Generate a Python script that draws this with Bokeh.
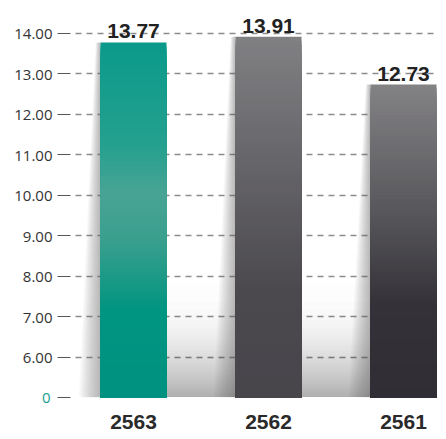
import numpy as np
from bokeh.plotting import figure
from bokeh.models import Range1d, FixedTicker, LinearAxis
from bokeh.core.properties import value
from bokeh.embed import file_html
from bokeh.resources import INLINE

# ---- data ----
years = ["2563", "2562", "2561"]
values = [13.77, 13.91, 12.73]
value_labels = ["13.77", "13.91", "12.73"]
y_ticks = [5, 6, 7, 8, 9, 10, 11, 12, 13, 14]
y_tick_labels = ["0", "6.00", "7.00", "8.00", "9.00", "10.00", "11.00", "12.00", "13.00", "14.00"]
base = 5  # broken axis: bottom labelled "0"

# ---- styles ----
gradients = [
    [(0, "#009180"), (0.25, "#009581"), (0.45, "#3a9f8e"), (0.58, "#48a494"), (0.72, "#24a08f"), (1, "#0b9a8a")],
    [(0, "#48464b"), (0.3, "#4b494e"), (0.7, "#69686c"), (1, "#808083")],
    [(0, "#302e34"), (0.3, "#343238"), (0.6, "#58575b"), (1, "#828184")],
]
TEAL = "#159e8e"
BAR_W = 0.489
X0, X1 = 0.0333, 2.7593


def hex2rgb(h):
    h = h.lstrip("#")
    return [int(h[i:i + 2], 16) for i in (0, 2, 4)]


def interp(stops, t):
    for (t0, c0), (t1, c1) in zip(stops[:-1], stops[1:]):
        if t0 <= t <= t1:
            f = 0 if t1 == t0 else (t - t0) / (t1 - t0)
            a, b = hex2rgb(c0), hex2rgb(c1)
            return "#%02x%02x%02x" % tuple(int(round(a[i] + (b[i] - a[i]) * f)) for i in range(3))
    return stops[-1][1]


xs = [i + 0.5 for i in range(len(years))]

p = figure(width=438, height=431,
           x_range=Range1d(X0, X1), y_range=Range1d(base, 14.806),
           output_backend="svg", toolbar_location=None,
           min_border_left=70, min_border_right=0, min_border_top=0, min_border_bottom=27)
p.outline_line_color = None
p.background_fill_color = "white"
p.border_fill_color = "white"

# axes
p.xaxis.ticker = FixedTicker(ticks=xs)
p.xaxis.major_label_overrides = {x: y for x, y in zip(xs, years)}
p.xaxis.axis_line_color = None
p.xaxis.major_tick_line_color = None
p.xaxis.minor_tick_line_color = None
p.xaxis.major_label_text_font = "Liberation Sans"
p.xaxis.major_label_text_font_style = "bold"
p.xaxis.major_label_text_font_size = "21px"
p.xaxis.major_label_text_color = "#2a2a2a"
p.xaxis.major_label_standoff = 11

yax = p.yaxis[0]
yax.ticker = FixedTicker(ticks=y_ticks)
overrides = {t: l for t, l in zip(y_ticks, y_tick_labels)}
overrides[base] = " "
yax.major_label_overrides = overrides
yax.axis_line_color = None
yax.major_tick_out = 13
yax.major_tick_in = 0
yax.major_tick_line_color = "#555555"
yax.minor_tick_line_color = None
yax.major_label_standoff = 5
yax.major_label_text_font = "Open Sans"
yax.major_label_text_font_size = "15px"
yax.major_label_text_color = "#333333"

# teal "0" at the broken axis base (second axis, label pulled back under the first)
zero_axis = LinearAxis(ticker=FixedTicker(ticks=[base]),
                       major_label_overrides={base: y_tick_labels[0]},
                       axis_line_color=None, major_tick_line_color=None,
                       minor_tick_line_color=None, major_tick_out=0, major_tick_in=0,
                       major_label_standoff=-39,
                       major_label_text_font="Open Sans", major_label_text_font_size="15px",
                       major_label_text_color=TEAL)
p.add_layout(zero_axis, "left")

p.xgrid.visible = False
p.ygrid.ticker = FixedTicker(ticks=y_ticks[1:])
p.ygrid.grid_line_color = "#8c8c8c"
p.ygrid.grid_line_width = 1.3
p.ygrid.grid_line_dash = "6 5"
p.ygrid.grid_line_dash_offset = 6

# floor shadow (denser towards the bottom)
K = 40
lefts = [x - BAR_W / 2 for x in xs]
rights = [x + BAR_W / 2 for x in xs]
p.quad(left=lefts[0], right=rights[-1], bottom=base,
       top=[base + 2.8 * (1 - np.sqrt(k / K)) for k in range(K)],
       fill_color="#4f4c50", fill_alpha=0.013, line_color=None)

# slanted shadows left of each bar
sx, sy = [], []
KS = 12
for xl, v in zip(lefts, values):
    for k in range(KS):
        s = (k + 1) / KS
        sx.append([xl - 0.035 * s, xl, xl, xl - 0.16 * s])
        sy.append([v, v, base, base])
p.patches(sx, sy, fill_color="#5c595c", fill_alpha=0.045, line_color=None)

# gradient bars
N = 90
for x, v, stops in zip(xs, values, gradients):
    fr = [(N - k) / N for k in range(N)]
    tops = [base + (v - base) * f for f in fr]
    cols = [interp(stops, f) for f in fr]
    p.quad(left=x - BAR_W / 2, right=x + BAR_W / 2, bottom=base, top=tops,
           fill_color=cols, line_color=None)

# value labels
p.text(x=xs, y=values, text=value_labels, text_align="center", text_baseline="bottom",
       y_offset=-4, text_font=value("Liberation Sans"), text_font_style="bold",
       text_font_size="21px", text_color="#222222")

open("out.html", "w").write(file_html(p, INLINE))
